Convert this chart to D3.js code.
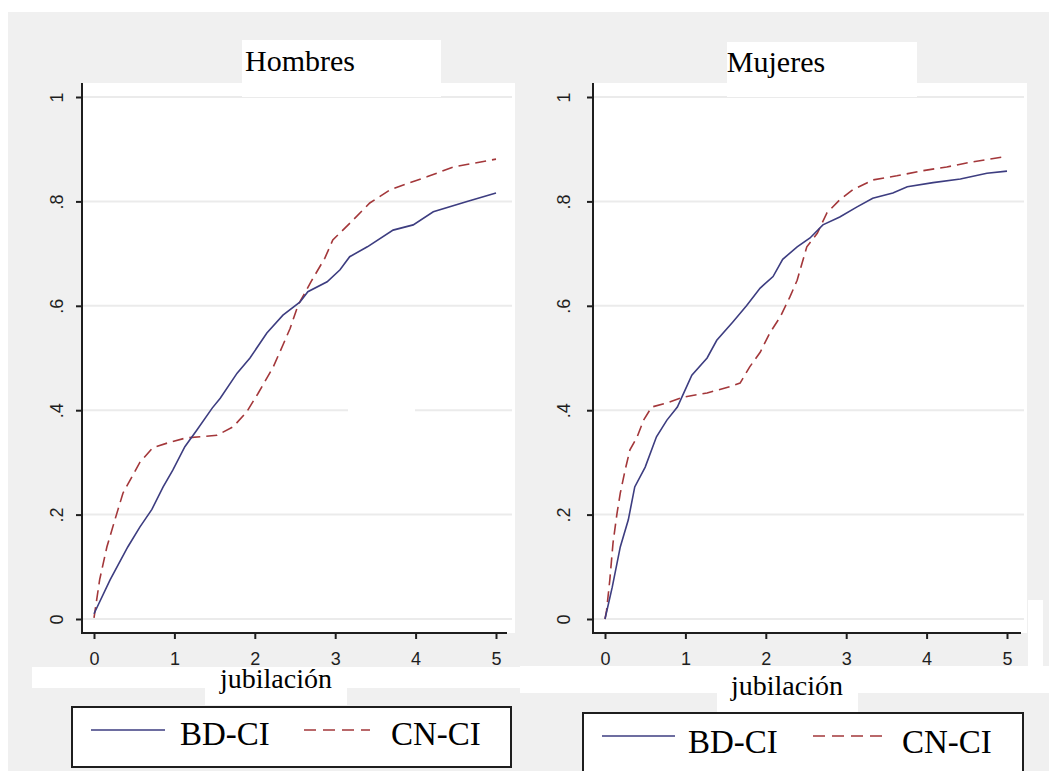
<!DOCTYPE html>
<html>
<head>
<meta charset="utf-8">
<script src="https://cdn.jsdelivr.net/npm/d3@7"></script>
<style>
body { margin: 0; background: #fff; }
</style>
</head>
<body>
<div id="chart-container"></div>
<script>
// [años, proporción acumulada]
const hombresBD = [[0,0.01],[0.2,0.075],[0.42,0.138],[0.57,0.176],[0.72,0.21],[0.86,0.253],[0.98,0.285],[1.13,0.33],[1.28,0.362],[1.47,0.404],[1.57,0.423],[1.78,0.471],[1.94,0.5],[2.15,0.548],[2.35,0.582],[2.56,0.607],[2.66,0.627],[2.9,0.646],[3.06,0.669],[3.18,0.694],[3.4,0.713],[3.72,0.745],[3.97,0.755],[4.22,0.78],[4.64,0.8],[5,0.816]];
const hombresCN = [[0,0.002],[0.07,0.075],[0.16,0.138],[0.26,0.19],[0.36,0.241],[0.47,0.272],[0.57,0.3],[0.73,0.328],[0.95,0.339],[1.15,0.347],[1.53,0.352],[1.73,0.368],[1.9,0.397],[2.04,0.432],[2.23,0.483],[2.35,0.525],[2.44,0.557],[2.54,0.602],[2.71,0.649],[2.87,0.691],[2.97,0.726],[3.22,0.764],[3.43,0.797],[3.68,0.822],[3.93,0.836],[4.14,0.847],[4.47,0.866],[5,0.881]];
const mujeresBD = [[0,0],[0.09,0.061],[0.19,0.138],[0.29,0.19],[0.37,0.253],[0.5,0.291],[0.64,0.349],[0.77,0.381],[0.9,0.406],[1.0,0.44],[1.08,0.467],[1.27,0.5],[1.39,0.534],[1.59,0.569],[1.76,0.6],[1.93,0.634],[2.09,0.656],[2.21,0.689],[2.39,0.713],[2.55,0.73],[2.71,0.755],[2.92,0.77],[3.13,0.789],[3.33,0.806],[3.58,0.816],[3.76,0.828],[4.08,0.836],[4.42,0.843],[4.75,0.854],[5,0.858]];
const mujeresCN = [[0,0],[0.02,0.017],[0.06,0.075],[0.1,0.146],[0.15,0.203],[0.19,0.241],[0.25,0.285],[0.31,0.324],[0.4,0.349],[0.48,0.381],[0.58,0.406],[0.77,0.414],[0.97,0.425],[1.27,0.433],[1.55,0.445],[1.68,0.452],[1.8,0.483],[1.93,0.511],[2.05,0.548],[2.18,0.579],[2.3,0.617],[2.39,0.649],[2.51,0.713],[2.64,0.739],[2.76,0.778],[2.92,0.803],[3.08,0.822],[3.33,0.841],[3.63,0.849],[3.92,0.858],[4.25,0.866],[4.58,0.876],[4.95,0.885]];

const xTicks = [0, 1, 2, 3, 4, 5];
const yTicks = [0, 0.2, 0.4, 0.6, 0.8, 1];
const yTickLabels = ["0", ".2", ".4", ".6", ".8", "1"];
const seriesNames = ["BD-CI", "CN-CI"];
const panelTitles = ["Hombres", "Mujeres"];
const xTitle = "jubilación";

const width = 1049, height = 771;
const blue = "#3d3d80", red = "#a3373a", gray = "#f0f0f0", ink = "#1e1e1e";
const serif = "'Liberation Serif', 'Times New Roman', serif";
const sans = "'Liberation Sans', Arial, sans-serif";

// layout of each panel (pixels)
const panels = [
  {title: panelTitles[0], bd: hombresBD, cn: hombresCN,
   plot: [82, 83, 515, 633], x0: 94, x5: 496, axisEnd: 507, yLabGap: 19,
   titleX: 300, titleY: 71, titlePatch: [242, 40, 441, 97],
   xLabX: 276, xLabY: 688,
   patches: [[32, 667, 530, 688], [205, 667, 347, 705], [348, 404, 415, 417]],
   legend: {box: [72, 707, 511, 767], ly: 730, l1: [91, 165], t1: 180, l2: [304, 370], t2: 391, ty: 745}},
  {title: panelTitles[1], bd: mujeresBD, cn: mujeresCN,
   plot: [593, 83, 1027, 633], x0: 605, x5: 1007, axisEnd: 1021, yLabGap: 23,
   titleX: 776, titleY: 72, titlePatch: [727, 42, 917, 97],
   xLabX: 787, xLabY: 695,
   patches: [[520, 666, 1049, 693], [717, 666, 858, 712], [1028, 600, 1043, 672]],
   legend: {box: [583, 713, 1023, 776], ly: 736, l1: [602, 675], t1: 688, l2: [813, 887], t2: 902, ty: 753}}
];

const svg = d3.select("#chart-container")
    .append("svg")
    .attr("width", width)
    .attr("height", height);

svg.append("rect").attr("width", width).attr("height", height).attr("fill", "#fff");
svg.append("rect").attr("x", 8).attr("y", 12).attr("width", width - 8).attr("height", height - 12).attr("fill", gray);

const patch = (g, r) => g.append("rect")
    .attr("x", r[0]).attr("y", r[1])
    .attr("width", r[2] - r[0]).attr("height", r[3] - r[1])
    .attr("fill", "#fff");

panels.forEach(p => {
  const [px0, py0, px1, py1] = p.plot;
  const x = d3.scaleLinear().domain([0, 5]).range([p.x0, p.x5]);
  const y = d3.scaleLinear().domain([0, 1]).range([619, 97]);
  const g = svg.append("g");

  patch(g, p.plot);

  // grid
  g.selectAll(".grid")
    .data(yTicks)
    .join("line")
    .attr("x1", px0).attr("x2", px1 - 3)
    .attr("y1", d => y(d)).attr("y2", d => y(d))
    .attr("stroke", "#ebebeb")
    .attr("stroke-width", 2);

  p.patches.slice(2).forEach(r => patch(g, r));

  const line = d3.line()
      .x(d => x(d[0]))
      .y(d => y(d[1]));

  g.append("path")
    .datum(p.cn)
    .attr("fill", "none")
    .attr("stroke", red)
    .attr("stroke-width", 1.6)
    .attr("stroke-dasharray", "11,6")
    .attr("d", line);

  g.append("path")
    .datum(p.bd)
    .attr("fill", "none")
    .attr("stroke", blue)
    .attr("stroke-width", 1.6)
    .attr("d", line);

  // axes
  const ya = g.append("g")
    .attr("transform", `translate(${px0},0)`)
    .call(d3.axisLeft(y).tickValues(yTicks).tickFormat((d, i) => yTickLabels[i]).tickSize(6).tickSizeOuter(0));
  ya.select(".domain").remove();
  ya.selectAll("line").attr("stroke", ink).attr("stroke-width", 2);
  ya.selectAll("text")
    .attr("transform", "rotate(-90)")
    .attr("x", 0).attr("y", -p.yLabGap).attr("dy", 0)
    .attr("text-anchor", "middle")
    .attr("fill", ink)
    .style("font-family", sans).style("font-size", "18px");

  const xa = g.append("g")
    .attr("transform", `translate(0,${py1})`)
    .call(d3.axisBottom(x).tickValues(xTicks).tickFormat(d3.format("d")).tickSize(6).tickSizeOuter(0));
  xa.select(".domain").remove();
  xa.selectAll("line").attr("stroke", ink).attr("stroke-width", 2);
  xa.selectAll("text")
    .attr("y", 32).attr("dy", 0)
    .attr("fill", ink)
    .style("font-family", sans).style("font-size", "18px");

  g.append("line").attr("x1", px0).attr("x2", px0).attr("y1", py0).attr("y2", py1 + 1)
    .attr("stroke", ink).attr("stroke-width", 2);
  g.append("line").attr("x1", px0).attr("x2", p.axisEnd).attr("y1", py1).attr("y2", py1)
    .attr("stroke", ink).attr("stroke-width", 2);

  // title
  patch(g, p.titlePatch);
  g.append("text")
    .attr("x", p.titleX).attr("y", p.titleY)
    .attr("text-anchor", "middle")
    .style("font-family", serif).style("font-size", "30px")
    .text(p.title);

  // x title
  p.patches.slice(0, 2).forEach(r => patch(g, r));
  g.append("text")
    .attr("x", p.xLabX).attr("y", p.xLabY)
    .attr("text-anchor", "middle")
    .style("font-family", serif).style("font-size", "28px")
    .text(xTitle);

  // legend
  const L = p.legend;
  g.append("rect")
    .attr("x", L.box[0]).attr("y", L.box[1])
    .attr("width", L.box[2] - L.box[0]).attr("height", L.box[3] - L.box[1])
    .attr("fill", "#fff").attr("stroke", ink).attr("stroke-width", 2);
  g.append("line").attr("x1", L.l1[0]).attr("x2", L.l1[1]).attr("y1", L.ly).attr("y2", L.ly)
    .attr("stroke", blue).attr("stroke-width", 1.6);
  g.append("line").attr("x1", L.l2[0]).attr("x2", L.l2[1]).attr("y1", L.ly).attr("y2", L.ly)
    .attr("stroke", red).attr("stroke-width", 1.6).attr("stroke-dasharray", "12,7");
  [L.t1, L.t2].forEach((tx, i) => {
    g.append("text")
      .attr("x", tx).attr("y", L.ty)
      .style("font-family", serif).style("font-size", "33px")
      .text(seriesNames[i]);
  });
});
</script>
</body>
</html>
